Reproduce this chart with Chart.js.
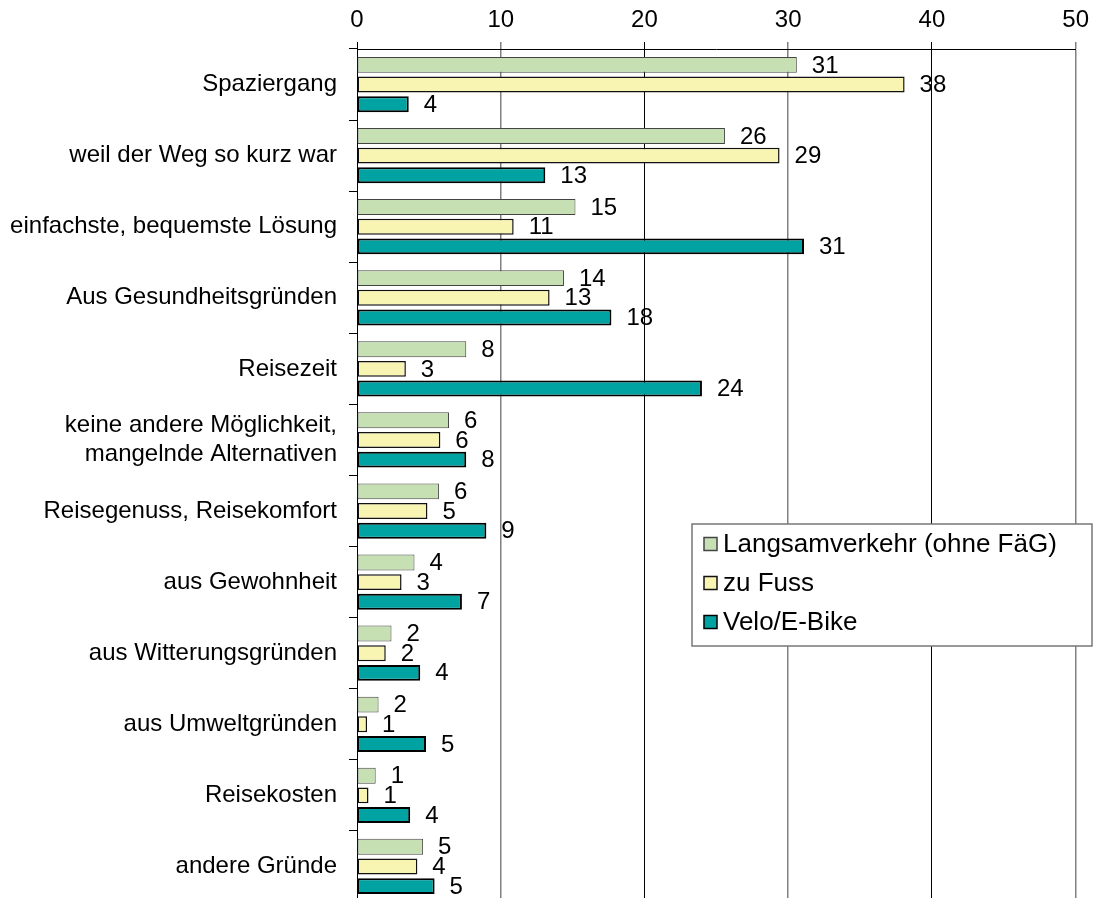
<!DOCTYPE html>
<html>
<head>
<meta charset="utf-8">
<script src="https://cdn.jsdelivr.net/npm/chart.js@4.4.1/dist/chart.umd.min.js"></script>
<style>
  html, body { margin: 0; padding: 0; background: #fff; overflow: hidden; }
  #wrap { position: relative; width: 1096px; height: 902px; }
</style>
</head>
<body>
<div id="wrap"><canvas id="reasonsChart"></canvas></div>
<script>
const categories = [
  'Spaziergang',
  'weil der Weg so kurz war',
  'einfachste, bequemste Lösung',
  'Aus Gesundheitsgründen',
  'Reisezeit',
  ['keine andere Möglichkeit,', 'mangelnde Alternativen'],
  'Reisegenuss, Reisekomfort',
  'aus Gewohnheit',
  'aus Witterungsgründen',
  'aus Umweltgründen',
  'Reisekosten',
  'andere Gründe'
];
const seriesNames = ['Langsamverkehr (ohne FäG)', 'zu Fuss', 'Velo/E-Bike'];
const langsamverkehr = [30.6, 25.6, 15.2, 14.4, 7.6, 6.4, 5.7, 4.0, 2.4, 1.5, 1.3, 4.6];
const zuFuss = [38.1, 29.4, 10.9, 13.4, 3.4, 5.8, 4.9, 3.1, 2.0, 0.7, 0.8, 4.2];
const veloEBike = [3.6, 13.1, 31.1, 17.7, 24.0, 7.6, 9.0, 7.3, 4.4, 4.8, 3.7, 5.4];
const xTicks = [0, 10, 20, 30, 40, 50];

const FONT = 'Arial, "Liberation Sans", sans-serif';
const FSIZE = 24;
const LEGEND_FSIZE = 26;

// value labels right of each bar
const valueLabels = {
  id: 'valueLabels',
  afterDatasetsDraw(chart) {
    const ctx = chart.ctx;
    ctx.save();
    ctx.font = FSIZE + 'px ' + FONT;
    ctx.fillStyle = '#000';
    ctx.textAlign = 'left';
    ctx.textBaseline = 'middle';
    chart.data.datasets.forEach((ds, i) => {
      chart.getDatasetMeta(i).data.forEach((bar, j) => {
        ctx.fillText(String(Math.round(ds.data[j])), bar.x + 15, bar.y + 1);
      });
    });
    ctx.restore();
  }
};

// legend box drawn inside the plot area
const boxLegend = {
  id: 'boxLegend',
  afterDraw(chart) {
    const ctx = chart.ctx;
    const left = 692, top = 524, rowH = 39, mark = 13;
    ctx.save();
    ctx.font = LEGEND_FSIZE + 'px ' + FONT;
    let w = 0;
    chart.data.datasets.forEach(ds => { w = Math.max(w, ctx.measureText(ds.label).width); });
    const boxW = Math.max(32 + w + 7, 400), boxH = 122;
    ctx.fillStyle = '#fff';
    ctx.fillRect(left, top, boxW, boxH);
    ctx.strokeStyle = '#777';
    ctx.lineWidth = 1.5;
    ctx.strokeRect(left, top, boxW, boxH);
    chart.data.datasets.forEach((ds, i) => {
      const cy = top + 20 + i * rowH;
      ctx.fillStyle = ds.backgroundColor;
      ctx.fillRect(left + 12, cy - mark / 2, mark, mark);
      ctx.strokeStyle = ds.borderColor;
      ctx.lineWidth = 1.5;
      ctx.strokeRect(left + 12, cy - mark / 2, mark, mark);
      ctx.fillStyle = '#000';
      ctx.textBaseline = 'middle';
      ctx.fillText(ds.label, left + 31, cy + 1);
    });
    ctx.restore();
  }
};

const ctx = document.getElementById('reasonsChart').getContext('2d');
const reasonsChart = new Chart(ctx, {
  type: 'bar',
  data: {
    labels: categories,
    datasets: [{
      label: seriesNames[0],
      data: langsamverkehr,
      backgroundColor: '#c6e0b4',
      borderColor: '#444',
      borderWidth: 1
    }, {
      label: seriesNames[1],
      data: zuFuss,
      backgroundColor: '#f8f4b2',
      borderColor: '#111',
      borderWidth: 1.5
    }, {
      label: seriesNames[2],
      data: veloEBike,
      backgroundColor: '#00a2a2',
      borderColor: '#000',
      borderWidth: 2
    }]
  },
  options: {
    indexAxis: 'y',
    responsive: true,
    maintainAspectRatio: false,
    animation: false,
    datasets: {
      bar: {
        categoryPercentage: 0.83,
        barPercentage: 0.81,
        borderSkipped: false
      }
    },
    layout: { padding: { top: 0, right: 19, bottom: 0, left: 0 } },
    plugins: {
      legend: { display: false },
      tooltip: { enabled: false }
    },
    scales: {
      x: {
        position: 'top',
        min: 0,
        max: 50,
        afterBuildTicks: scale => { scale.ticks = xTicks.map(v => ({ value: v })); },
        afterFit: scale => { scale.height = 49; scale.paddingLeft = 0; },
        ticks: {
          color: '#000',
          padding: 7,
          font: { family: FONT, size: FSIZE }
        },
        grid: {
          color: c => (c.tick && c.tick.value % 20 === 10) ? '#808080' : '#000',
          lineWidth: c => (c.tick && c.tick.value % 20 === 10) ? 1.5 : 1,
          tickLength: 7
        },
        border: { color: '#000', width: 1 }
      },
      y: {
        afterFit: scale => {
          scale.width = 357;
          scale.paddingTop = 0;
          scale.paddingBottom = 0;
        },
        ticks: {
          color: '#000',
          padding: 12,
          font: { family: FONT, size: FSIZE, lineHeight: 1.2 }
        },
        grid: {
          drawOnChartArea: false,
          color: '#000',
          tickLength: 8,
          offset: true
        },
        border: { color: '#000', width: 1 }
      }
    }
  },
  plugins: [valueLabels, boxLegend]
});
</script>
</body>
</html>
